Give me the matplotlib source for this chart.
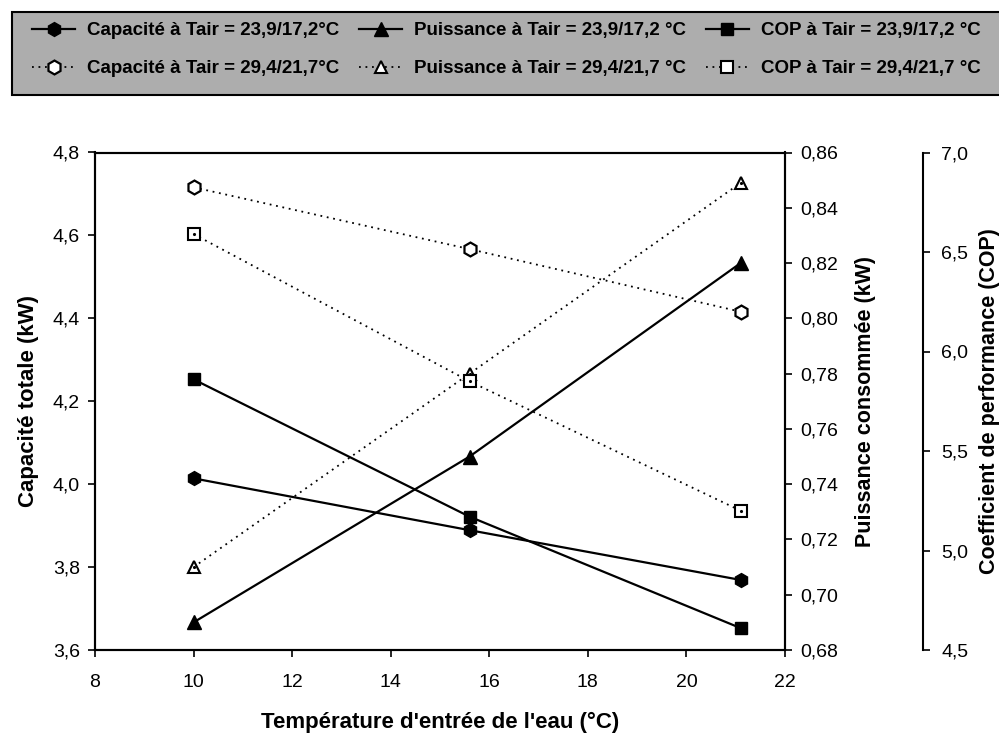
import matplotlib
matplotlib.use("Agg")
import matplotlib.pyplot as plt
from matplotlib.patches import Rectangle
from matplotlib.ticker import FuncFormatter, MultipleLocator

plt.rcParams["font.family"] = ["Liberation Sans", "DejaVu Sans"]

# temperatures d'entree de l'eau (°C)
t_eau = [10.0, 15.6, 21.1]

# Tair = 23,9/17,2 °C
cap_a = [4.014, 3.889, 3.769]
puis_a = [0.690, 0.750, 0.820]
cop_a = [5.86, 5.17, 4.61]

# Tair = 29,4/21,7 °C
cap_b = [4.716, 4.567, 4.416]
puis_b = [0.710, 0.780, 0.849]
cop_b = [6.59, 5.85, 5.20]

lab_cap_a = "Capacité à Tair = 23,9/17,2°C"
lab_puis_a = "Puissance à Tair = 23,9/17,2 °C"
lab_cop_a = "COP à Tair = 23,9/17,2 °C"
lab_cap_b = "Capacité à Tair = 29,4/21,7°C"
lab_puis_b = "Puissance à Tair = 29,4/21,7 °C"
lab_cop_b = "COP à Tair = 29,4/21,7 °C"

comma = FuncFormatter(lambda v, p: f"{v:.1f}".replace(".", ","))
comma2 = FuncFormatter(lambda v, p: f"{v:.2f}".replace(".", ","))
comma0 = FuncFormatter(lambda v, p: f"{v:.0f}")

W, H = 999, 735
fig = plt.figure(figsize=(W / 100, H / 100), dpi=100)
ax = fig.add_axes([95 / W, 1 - 650 / H, 690 / W, 497.5 / H])
ax2 = ax.twinx()
ax3 = ax.twinx()
ax3.spines["right"].set_position(("axes", 1.2))
for s in ["top", "left", "bottom"]:
    ax3.spines[s].set_visible(False)

solid = dict(color="black", lw=1.6, linestyle="-")
dotted = dict(color="black", lw=1.3, linestyle=(0, (1, 2.6)))

h1, = ax.plot(t_eau, cap_a, marker="h", ms=10, mfc="black", mec="black", label=lab_cap_a, **solid)
h4, = ax.plot(t_eau, cap_b, marker="h", ms=10, mfc="white", mec="black", mew=1.6, label=lab_cap_b, **dotted)

h2, = ax2.plot(t_eau, puis_a, marker="^", ms=10, mfc="black", mec="black", label=lab_puis_a, **solid)
h5, = ax2.plot(t_eau, puis_b, marker="^", ms=9, mfc="white", mec="black", mew=1.5, label=lab_puis_b, **dotted)
ax2.plot(t_eau, puis_b, linestyle="none", marker=".", ms=2.5, color="black")

h3, = ax3.plot(t_eau, cop_a, marker="s", ms=9, mfc="black", mec="black", label=lab_cop_a, **solid)
h6, = ax3.plot(t_eau, cop_b, marker="s", ms=8.5, mfc="white", mec="black", mew=1.5, label=lab_cop_b, **dotted)
ax3.plot(t_eau, cop_b, linestyle="none", marker=".", ms=2.5, color="black")

ax.set_xlim(8, 22)
ax.set_ylim(3.6, 4.8)
ax2.set_ylim(0.68, 0.86)
ax3.set_ylim(4.5, 7.0)

ax.xaxis.set_major_locator(MultipleLocator(2))
ax.yaxis.set_major_locator(MultipleLocator(0.2))
ax2.yaxis.set_major_locator(MultipleLocator(0.02))
ax3.yaxis.set_major_locator(MultipleLocator(0.5))
ax.xaxis.set_major_formatter(comma0)
ax.yaxis.set_major_formatter(comma)
ax2.yaxis.set_major_formatter(comma2)
ax3.yaxis.set_major_formatter(comma)

for a in (ax, ax2, ax3):
    a.tick_params(direction="out", length=5, width=1.2, labelsize=14, pad=6, colors="black")
    for s in a.spines.values():
        s.set_linewidth(1.5)
ax.tick_params(axis="x", pad=12)
ax3.tick_params(pad=8)

ax.set_xlabel("Température d'entrée de l'eau (°C)", fontsize=16, fontweight="bold", labelpad=15)
ax.set_ylabel("Capacité totale (kW)", fontsize=16, fontweight="bold", labelpad=10)
ax2.set_ylabel("Puissance consommée (kW)", fontsize=15.5, fontweight="bold", labelpad=12)
ax3.set_ylabel("Coefficient de performance (COP)", fontsize=15.5, fontweight="bold", labelpad=8)

# gray legend band, running off the right edge
band = Rectangle((11.5 / W, 1 - 95 / H), 1.0, (95 - 11.7) / H, transform=fig.transFigure,
                 facecolor="#adadad", edgecolor="black", lw=1.5, zorder=0)
fig.patches.append(band)

handles = [h1, h4, h2, h5, h3, h6]
leg = fig.legend(handles=handles, labels=[h.get_label() for h in handles],
                 loc="upper left", bbox_to_anchor=(32 / W, 1 - 22 / H), ncol=3,
                 prop={"size": 13.5, "weight": "bold"},
                 frameon=False, borderaxespad=0, borderpad=0,
                 handlelength=2.3, handletextpad=0.64, columnspacing=1.05,
                 labelspacing=1.12)

fig.savefig("out.png", dpi=100)
